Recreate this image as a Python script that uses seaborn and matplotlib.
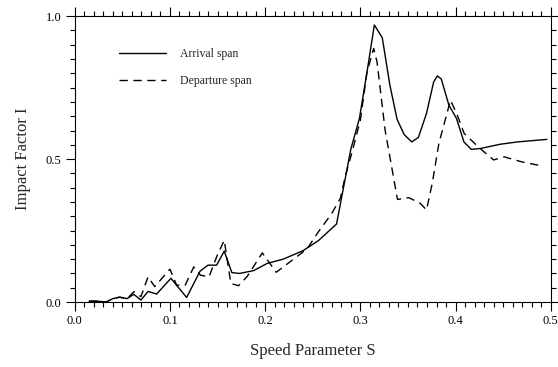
import matplotlib
matplotlib.use("Agg")
import matplotlib.pyplot as plt
import seaborn as sns
import pandas as pd
from matplotlib.ticker import MultipleLocator

# Data
arrival_s = [0.015, 0.024, 0.033, 0.040, 0.047, 0.055, 0.062, 0.0695, 0.077, 0.086,
             0.101, 0.1175, 0.1316, 0.140, 0.149, 0.157, 0.165, 0.173, 0.188, 0.202,
             0.219, 0.240, 0.256, 0.275, 0.290, 0.299, 0.307, 0.3147, 0.323, 0.331,
             0.3386, 0.346, 0.354, 0.361, 0.3695, 0.377, 0.381, 0.385, 0.393, 0.401,
             0.4088, 0.4165, 0.426, 0.447, 0.465, 0.496]
arrival_i = [0.003, 0.003, 0.000, 0.012, 0.017, 0.012, 0.027, 0.007, 0.037, 0.028,
             0.083, 0.016, 0.108, 0.129, 0.129, 0.178, 0.103, 0.100, 0.110, 0.135,
             0.150, 0.180, 0.215, 0.273, 0.535, 0.642, 0.805, 0.969, 0.925, 0.759,
             0.639, 0.586, 0.560, 0.576, 0.660, 0.770, 0.791, 0.780, 0.689, 0.642,
             0.560, 0.534, 0.537, 0.552, 0.560, 0.569]

departure_s = [0.015, 0.024, 0.033, 0.040, 0.047, 0.055, 0.062, 0.0695, 0.077, 0.084,
               0.100, 0.107, 0.116, 0.125, 0.132, 0.141, 0.149, 0.157, 0.164, 0.172,
               0.181, 0.197, 0.2116, 0.233, 0.244, 0.256, 0.270, 0.279, 0.284, 0.291,
               0.300, 0.307, 0.314, 0.3175, 0.326, 0.339, 0.351, 0.363, 0.3695, 0.3755,
               0.3825, 0.3947, 0.4018, 0.409, 0.421, 0.430, 0.440, 0.451, 0.470, 0.4895]
departure_i = [0.003, 0.003, 0.000, 0.012, 0.017, 0.012, 0.036, 0.019, 0.088, 0.054,
               0.115, 0.059, 0.059, 0.123, 0.094, 0.088, 0.158, 0.216, 0.065, 0.057,
               0.089, 0.172, 0.104, 0.158, 0.186, 0.246, 0.310, 0.363, 0.438, 0.521,
               0.636, 0.805, 0.887, 0.840, 0.601, 0.359, 0.365, 0.345, 0.322, 0.415,
               0.555, 0.706, 0.654, 0.590, 0.552, 0.525, 0.497, 0.508, 0.490, 0.477]

series_names = ["Arrival span", "Departure span"]
x_label = "Speed Parameter S"
y_label = "Impact Factor I"

df = pd.concat([
    pd.DataFrame({"S": arrival_s, "I": arrival_i, "span": series_names[0]}),
    pd.DataFrame({"S": departure_s, "I": departure_i, "span": series_names[1]}),
], ignore_index=True)

sns.set_style("ticks")
plt.rcParams["font.family"] = ["Liberation Serif", "DejaVu Serif"]
plt.rcParams["axes.linewidth"] = 0.8

fig = plt.figure(figsize=(5.58, 3.67), dpi=100)
ax = fig.add_axes([0.134, 0.177, 0.853, 0.779])

sns.lineplot(data=df, x="S", y="I", style="span", hue="span",
             palette={series_names[0]: "black", series_names[1]: "black"},
             dashes={series_names[0]: "", series_names[1]: (6, 4)},
             sort=False, estimator=None, linewidth=1.0, ax=ax)

ax.set_xlim(0.0, 0.5)
ax.set_ylim(0.0, 1.0)
ax.xaxis.set_major_locator(MultipleLocator(0.1))
ax.xaxis.set_minor_locator(MultipleLocator(0.01))
ax.yaxis.set_major_locator(MultipleLocator(0.5))
ax.yaxis.set_minor_locator(MultipleLocator(0.05))
ax.xaxis.set_major_formatter(matplotlib.ticker.FormatStrFormatter("%.1f"))
ax.yaxis.set_major_formatter(matplotlib.ticker.FormatStrFormatter("%.1f"))
ax.tick_params(which="both", direction="out", top=True, right=True,
               labeltop=False, labelright=False, width=0.8, colors="black",
               labelsize=9)
ax.tick_params(which="major", length=6.5, pad=3)
ax.tick_params(which="minor", length=3.6)
for s in ax.spines.values():
    s.set_visible(True)
    s.set_color("black")

ax.set_xlabel(x_label, fontsize=12, labelpad=11)
ax.set_ylabel(y_label, fontsize=12, labelpad=11)

leg = ax.legend(loc="upper left", bbox_to_anchor=(0.08, 0.91), frameon=False,
                fontsize=8.5, handlelength=4.0, handletextpad=1.2,
                labelspacing=1.3, borderpad=0, title=None)

fig.savefig("out.png", dpi=100)
